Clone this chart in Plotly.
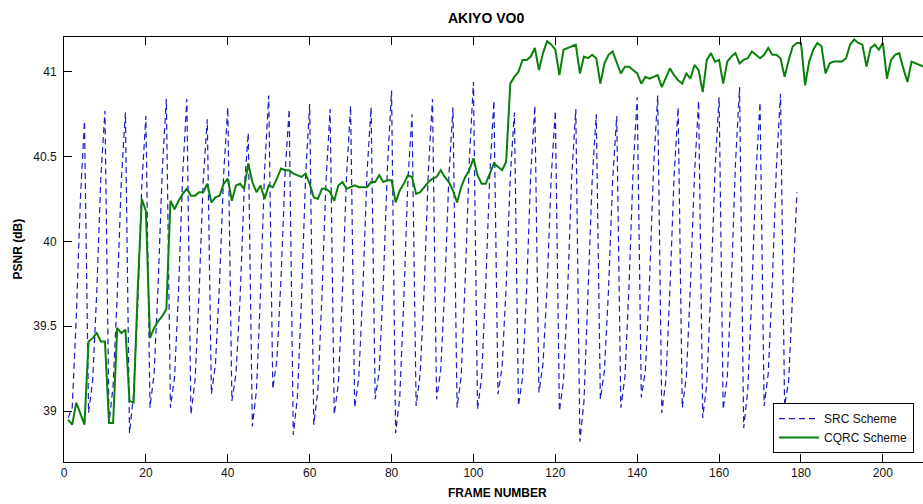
import plotly.graph_objects as go

# Frame numbers (x)
src_frames = list(range(1, 180))
cqrc_frames = list(range(1, 211))

# SRC Scheme PSNR (dB), frames 1..179
src_psnr = [
    38.96, 39.02, 39.55, 40.25, 40.71,
    38.99, 39.18, 39.70, 40.38, 40.77,
    38.93, 39.15, 39.68, 40.36, 40.76,
    38.87, 39.10, 39.62, 40.33, 40.74,
    39.02, 39.22, 39.75, 40.42, 40.84,
    39.02, 39.20, 39.72, 40.40, 40.84,
    38.98, 39.18, 39.70, 40.36, 40.72,
    39.10, 39.28, 39.76, 40.40, 40.79,
    39.06, 39.22, 39.66, 40.30, 40.64,
    38.91, 39.12, 39.70, 40.42, 40.86,
    39.13, 39.30, 39.78, 40.40, 40.78,
    38.86, 39.08, 39.66, 40.38, 40.81,
    38.92, 39.12, 39.68, 40.36, 40.78,
    38.98, 39.16, 39.70, 40.38, 40.80,
    39.02, 39.20, 39.72, 40.40, 40.79,
    39.07, 39.24, 39.76, 40.44, 40.89,
    38.87, 39.08, 39.66, 40.36, 40.75,
    39.03, 39.22, 39.74, 40.42, 40.84,
    39.07, 39.24, 39.72, 40.38, 40.79,
    39.02, 39.20, 39.78, 40.48, 40.94,
    39.01, 39.20, 39.74, 40.40, 40.83,
    39.10, 39.26, 39.74, 40.38, 40.76,
    39.03, 39.20, 39.72, 40.40, 40.80,
    39.11, 39.28, 39.74, 40.38, 40.77,
    39.00, 39.18, 39.70, 40.38, 40.78,
    38.82, 39.06, 39.66, 40.36, 40.75,
    39.07, 39.24, 39.72, 40.36, 40.74,
    39.02, 39.20, 39.74, 40.42, 40.85,
    39.08, 39.24, 39.76, 40.44, 40.86,
    38.99, 39.18, 39.72, 40.38, 40.79,
    39.02, 39.20, 39.74, 40.40, 40.83,
    38.96, 39.16, 39.72, 40.42, 40.85,
    39.01, 39.20, 39.76, 40.46, 40.91,
    38.90, 39.12, 39.70, 40.40, 40.82,
    39.03, 39.22, 39.76, 40.44, 40.87,
    39.03, 39.18, 39.72, 40.29,
]

# CQRC Scheme PSNR (dB), frames 1..210
cqrc_psnr = [
    38.95, 38.92, 39.05, 38.98, 38.92, 39.41, 39.43, 39.46, 39.41, 39.41,
    38.93, 38.93, 39.49, 39.46, 39.48, 39.06, 39.05, 39.71, 40.25, 40.18,
    39.43, 39.49, 39.53, 39.56, 39.60, 40.24, 40.19, 40.24, 40.28, 40.31,
    40.27, 40.27, 40.29, 40.29, 40.34, 40.23, 40.26, 40.27, 40.34, 40.37,
    40.24, 40.33, 40.34, 40.31, 40.46, 40.35, 40.29, 40.33, 40.25, 40.33,
    40.32, 40.37, 40.43, 40.42, 40.42, 40.40, 40.39, 40.38, 40.40, 40.34,
    40.26, 40.25, 40.31, 40.31, 40.29, 40.24, 40.33, 40.35, 40.31, 40.32,
    40.33, 40.32, 40.32, 40.32, 40.35, 40.35, 40.39, 40.35, 40.36, 40.36,
    40.23, 40.30, 40.34, 40.39, 40.38, 40.28, 40.29, 40.32, 40.35, 40.37,
    40.38, 40.42, 40.38, 40.35, 40.30, 40.23, 40.32, 40.38, 40.42, 40.49,
    40.39, 40.34, 40.34, 40.40, 40.46, 40.44, 40.42, 40.47, 40.93, 40.97,
    41.00, 41.07, 41.07, 41.09, 41.14, 41.01, 41.11, 41.18, 41.16, 41.13,
    40.98, 41.13, 41.14, 41.15, 41.16, 40.99, 41.09, 41.08, 41.10, 41.08,
    40.93, 41.05, 41.10, 41.12, 41.06, 40.99, 41.03, 41.03, 41.01, 40.99,
    40.93, 40.97, 40.96, 40.97, 40.98, 40.91, 40.97, 41.02, 40.98, 40.95,
    40.93, 40.99, 40.96, 41.04, 41.01, 40.88, 41.07, 41.11, 41.06, 41.07,
    40.93, 41.06, 41.09, 41.11, 41.05, 41.07, 41.08, 41.12, 41.10, 41.08,
    41.10, 41.14, 41.10, 41.10, 41.08, 40.97, 41.07, 41.15, 41.17, 41.17,
    40.92, 41.06, 41.13, 41.17, 41.15, 40.99, 41.05, 41.06, 41.06, 41.06,
    41.08, 41.16, 41.19, 41.17, 41.16, 41.03, 41.14, 41.16, 41.13, 41.17,
    40.96, 41.07, 41.10, 41.11, 41.02, 40.94, 41.06, 41.05, 41.04, 41.03,
]

x_ticks = [0, 20, 40, 60, 80, 100, 120, 140, 160, 180, 200]
y_ticks = [39, 39.5, 40, 40.5, 41]
y_tick_labels = ["39", "39.5", "40", "40.5", "41"]

FONT = "Liberation Sans, Arial, sans-serif"

fig = go.Figure()
fig.add_trace(go.Scatter(
    x=src_frames, y=src_psnr, mode="lines", name="SRC Scheme",
    line=dict(color="#1a1ac8", width=1.2, dash="6px,4px"),
))
fig.add_trace(go.Scatter(
    x=cqrc_frames, y=cqrc_psnr, mode="lines", name="CQRC Scheme",
    line=dict(color="#0a800a", width=2),
))

fig.update_layout(
    width=923, height=504,
    margin=dict(l=64, r=0, t=37, b=42),
    paper_bgcolor="white", plot_bgcolor="white",
    font=dict(family=FONT, size=12, color="#111111"),
    showlegend=True,
    legend=dict(
        x=0.9895, y=0.021, xanchor="right", yanchor="bottom",
        bgcolor="white", bordercolor="black", borderwidth=1,
        font=dict(family=FONT, size=12, color="#111111"),
        tracegroupgap=0, itemwidth=40,
    ),
    xaxis=dict(
        range=[0, 209.8], tickvals=x_ticks,
        showline=True, linecolor="black", linewidth=1, mirror="ticks",
        ticks="inside", ticklen=8, tickcolor="black",
        showgrid=False, zeroline=False,
    ),
    yaxis=dict(
        range=[38.70, 41.205], tickvals=y_ticks, ticktext=y_tick_labels,
        showline=True, linecolor="black", linewidth=1, mirror=False,
        ticks="inside", ticklen=8, tickcolor="black",
        showgrid=False, zeroline=False, ticklabelstandoff=4,
    ),
    annotations=[
        dict(text="<b>AKIYO VO0</b>", xref="paper", yref="paper",
             x=(486 - 64) / 859, y=1, yshift=19, xanchor="center", yanchor="middle",
             showarrow=False, font=dict(family=FONT, size=14, color="black")),
        dict(text="<b>FRAME NUMBER</b>", xref="paper", yref="paper",
             x=(497 - 64) / 859, y=0, yshift=-31, xanchor="center", yanchor="middle",
             showarrow=False, font=dict(family=FONT, size=12, color="black")),
        dict(text="<b>PSNR (dB)</b>", xref="paper", yref="paper",
             x=0, xshift=-47, y=0.5, xanchor="center", yanchor="middle",
             textangle=-90, showarrow=False,
             font=dict(family=FONT, size=12, color="black")),
    ],
)

fig.write_html(
    "out.html",
    config={"displayModeBar": False},
    post_script="document.body.style.margin='0';document.body.style.padding='0';",
)
